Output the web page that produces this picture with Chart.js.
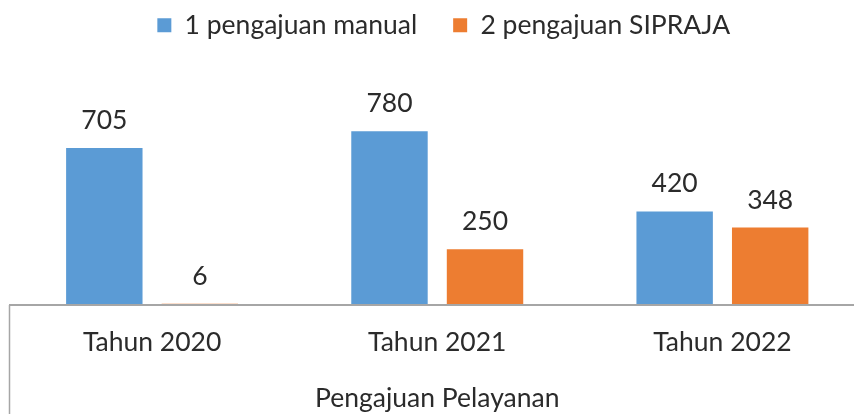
<!DOCTYPE html>
<html>
<head>
<meta charset="utf-8">
<script src="https://cdn.jsdelivr.net/npm/chart.js@4.4.1/dist/chart.umd.min.js"></script>
<style>
  html, body { margin: 0; padding: 0; background: #fff; overflow: hidden; }
  #wrap { width: 885px; height: 414px; }
</style>
</head>
<body>
<div id="wrap"><canvas id="c" width="885" height="414"></canvas></div>
<script>
const categories = ['Tahun 2020', 'Tahun 2021', 'Tahun 2022'];
const seriesNames = ['1 pengajuan manual', '2 pengajuan SIPRAJA'];
const manualValues = [705, 780, 420];
const sipraja = [6, 250, 348];
const axisTitle = 'Pengajuan Pelayanan';

const FONT = 'Lato';
const FSIZE = 26.5;
const TEXT = '#2b2b2b';
const AXIS = '#a6a6a6';
const PAD_TOP = -24;
const LEGEND_BOTTOM = 104.6;   // where the plot area starts
const LEGEND_SHIFT = 6.5;
const XAXIS_HEIGHT = 109;

const legendTweak = {
  id: 'legendTweak',
  beforeLayout(chart) {
    const lg = chart.legend;
    if (lg && !lg._patched) {
      const origFit = lg.fit.bind(lg);
      lg.fit = function () { origFit(); this.height = LEGEND_BOTTOM - PAD_TOP; };
      const origDraw = lg.draw.bind(lg);
      lg.draw = function () {
        const ctx = this.ctx;
        ctx.save();
        ctx.translate(LEGEND_SHIFT, 0);
        origDraw();
        ctx.restore();
      };
      lg._patched = true;
    }
  }
};

const valueLabels = {
  id: 'valueLabels',
  afterDatasetsDraw(chart) {
    const ctx = chart.ctx;
    ctx.save();
    ctx.font = FSIZE + 'px ' + FONT;
    ctx.fillStyle = TEXT;
    ctx.textAlign = 'center';
    ctx.textBaseline = 'alphabetic';
    chart.data.datasets.forEach((ds, di) => {
      chart.getDatasetMeta(di).data.forEach((bar, i) => {
        ctx.fillText(String(ds.data[i]), bar.x, bar.y - 19);
      });
    });
    ctx.restore();
  }
};

const axisLines = {
  id: 'axisLines',
  afterDraw(chart) {
    const x = chart.scales.x;
    const ctx = chart.ctx;
    ctx.save();
    ctx.strokeStyle = AXIS;
    ctx.lineWidth = 2;
    ctx.beginPath();
    ctx.moveTo(x.left, x.top);
    ctx.lineTo(x.right, x.top);
    ctx.stroke();
    ctx.lineWidth = 1.5;
    ctx.beginPath();
    ctx.moveTo(x.left, x.top);
    ctx.lineTo(x.left, chart.height);
    ctx.stroke();
    ctx.restore();
  }
};

new Chart(document.getElementById('c'), {
  type: 'bar',
  data: {
    labels: categories,
    datasets: [
      { label: seriesNames[0], data: manualValues, backgroundColor: '#5B9BD5', barPercentage: 0.8, categoryPercentage: 0.67 },
      { label: seriesNames[1], data: sipraja, backgroundColor: '#ED7D31', barPercentage: 0.8, categoryPercentage: 0.67 }
    ]
  },
  options: {
    responsive: false,
    animation: false,
    events: [],
    layout: { padding: { left: 9.5, right: 20, top: PAD_TOP, bottom: 0 } },
    plugins: {
      legend: {
        display: true,
        position: 'top',
        labels: {
          font: { family: FONT, size: FSIZE },
          color: TEXT,
          boxWidth: 14,
          boxHeight: 14,
          padding: 36
        }
      },
      tooltip: { enabled: false }
    },
    scales: {
      x: {
        afterFit(s) { s.height = XAXIS_HEIGHT; },
        grid: { display: false, drawTicks: false },
        border: { display: true, color: AXIS, width: 2 },
        ticks: { font: { family: FONT, size: FSIZE }, color: TEXT, padding: 22 },
        title: { display: true, text: axisTitle, font: { family: FONT, size: FSIZE }, color: TEXT, padding: { top: 0, bottom: 0 } }
      },
      y: {
        display: false,
        min: 0,
        max: 900
      }
    }
  },
  plugins: [legendTweak, valueLabels, axisLines]
});
</script>
</body>
</html>
